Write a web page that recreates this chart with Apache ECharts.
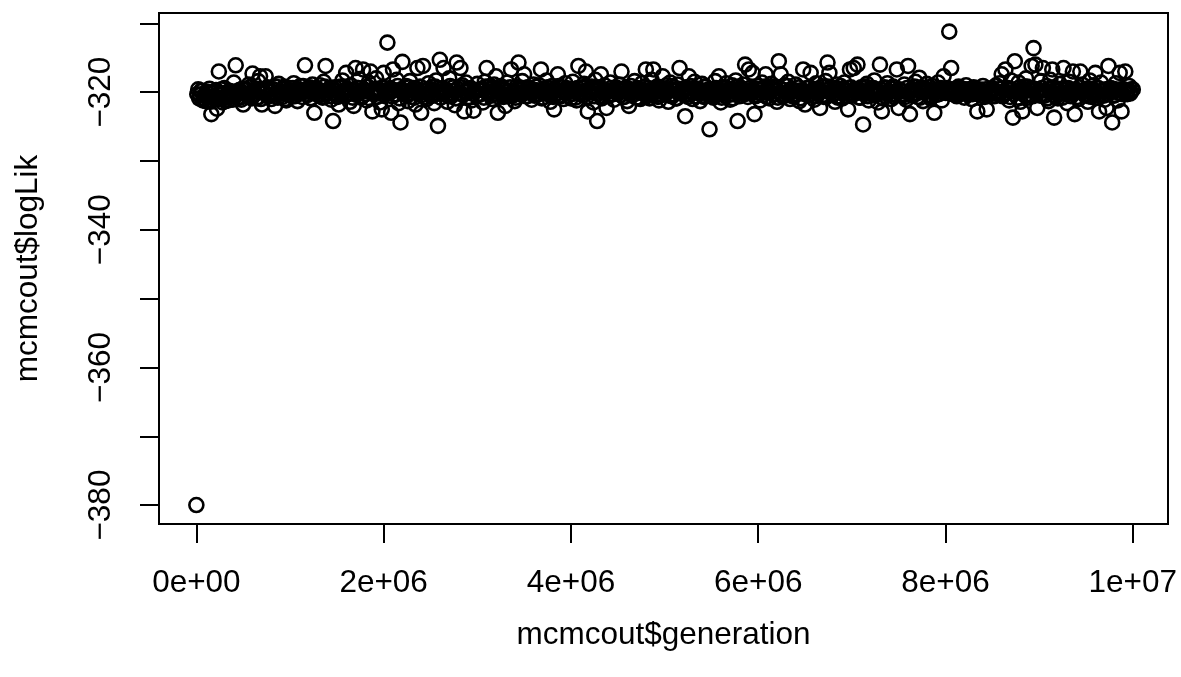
<!DOCTYPE html>
<html>
<head>
<meta charset="utf-8">
<script src="https://cdn.jsdelivr.net/npm/echarts@6/dist/echarts.min.js"></script>
<style>
html,body{margin:0;padding:0;background:#fff;}
#chart{width:1181px;height:677px;}
</style>
</head>
<body>
<div id="chart"></div>
<script>
// MCMC sample recorded every 10000 generations
const sampleEvery = 10000;
const xTickValues = [0, 2000000, 4000000, 6000000, 8000000, 10000000];
const xTickLabels = ['0e+00', '2e+06', '4e+06', '6e+06', '8e+06', '1e+07'];
const yTickValues = [-380, -370, -360, -350, -340, -330, -320, -310];
const yLabelValues = [-380, -360, -340, -320];
const xName = 'mcmcout$generation';
const yName = 'mcmcout$logLik';
// samples at generations 0, 20000, 40000, ... (even samples)
const logLikEven = [
-380,-319.6,-320.4,-319.8,-320.9,-321.3,-320.2,-319.5,-323.2,-320.7,-321.0,-322.4,-317.0,-320.1,-321.5,-319.4,-320.6,-321.2,-319.9,-320.3,-318.6,-316.1,-320.8,-319.7,-321.1,
-321.8,-319.5,-320.2,-318.9,-320.6,-317.3,-319.8,-320.9,-318.4,-317.7,-321.8,-320.1,-317.7,-319.3,-320.5,-321.0,-319.6,-322.0,-320.3,-318.8,-319.9,-320.7,-319.2,-321.2,-320.0,
-319.4,-320.6,-318.7,-320.2,-321.3,-319.7,-320.0,-319.1,-316.1,-320.4,-319.5,-320.9,-318.9,-323.0,-319.8,-320.3,-319.0,-320.7,-318.5,-316.2,-320.1,-319.6,-321.1,-324.2,-319.3,
-320.5,-321.8,-319.2,-318.3,-320.0,-317.2,-319.7,-321.4,-320.2,-322.0,-316.5,-319.4,-318.1,-320.8,-316.7,-319.9,-321.2,-318.6,-317.0,-322.8,-320.3,-318.0,-319.5,-321.5,-322.5,
-317.2,-320.1,-312.8,-319.6,-323.0,-316.7,-320.4,-318.2,-321.6,-324.4,-315.6,-320.0,-319.1,-321.3,-318.4,-320.7,-319.4,-321.8,-316.5,-320.2,-323.0,-316.2,-319.8,-321.0,-318.7,
-320.5,-319.2,-321.6,-318.3,-324.9,-315.3,-320.1,-316.5,-319.7,-321.4,-318.0,-320.6,-319.3,-321.9,-315.7,-320.2,-316.5,-319.0,-322.8,-318.6,-320.8,-319.5,-321.2,-322.7,-319.9,
-318.8,-320.4,-319.6,-321.5,-318.5,-316.5,-320.3,-319.1,-321.0,-318.9,-317.7,-323.0,-320.0,-319.4,-320.7,-322.0,-318.6,-319.8,-316.7,-320.5,-321.3,-319.2,-315.7,-320.1,-318.4,
-317.4,-320.6,-319.3,-320.0,-321.1,-318.9,-319.7,-320.4,-319.0,-316.7,-320.8,-319.5,-318.3,-320.2,-321.4,-319.1,-322.5,-319.8,-317.4,-320.5,-319.3,-321.0,-318.7,-320.1,-319.6,
-320.9,-318.5,-319.9,-321.2,-316.2,-320.3,-319.4,-318.8,-317.0,-322.8,-320.0,-319.2,-321.5,-318.2,-324.2,-319.7,-317.4,-320.6,-319.0,-322.3,-320.4,-318.6,-319.8,-321.1,-319.3,
-320.2,-318.9,-317.0,-320.7,-319.5,-321.3,-322.0,-319.1,-320.0,-318.4,-320.8,-319.6,-321.0,-318.7,-320.3,-316.7,-319.4,-320.9,-318.2,-316.7,-320.5,-319.2,-321.2,-319.8,-317.7,
-320.1,-319.0,-321.4,-318.6,-320.6,-319.3,-320.9,-318.9,-316.5,-320.2,-319.7,-323.5,-320.4,-317.7,-319.1,-321.0,-318.5,-320.0,-319.5,-321.3,-318.8,-320.7,-319.2,-320.3,-325.4,
-319.6,-320.8,-318.4,-320.1,-317.7,-321.5,-319.3,-320.5,-318.7,-319.9,-321.1,-319.0,-320.3,-318.3,-324.2,-320.6,-319.4,-318.9,-316.0,-320.2,-316.7,-319.7,-317.2,-323.2,-320.4,
-319.1,-321.2,-318.6,-320.0,-317.4,-319.5,-320.9,-318.8,-320.3,-319.2,-321.4,-315.5,-317.4,-320.6,-319.0,-320.1,-318.5,-321.0,-319.6,-320.4,-318.9,-319.8,-321.3,-320.2,-316.7,
-321.8,-319.4,-320.5,-317.2,-319.9,-321.1,-318.7,-320.3,-322.3,-319.2,-320.7,-318.4,-315.7,-317.2,-320.0,-319.5,-321.4,-318.9,-320.6,-319.1,-320.9,-318.6,-319.7,-322.5,-316.7,
-320.2,-316.5,-319.6,-316.0,-320.8,-319.3,-324.7,-320.1,-318.8,-321.2,-319.5,-320.4,-318.3,-320.0,-321.5,-316.0,-322.8,-319.4,-320.6,-318.7,-319.9,-321.0,-319.2,-320.3,-316.7,
-322.3,-319.8,-320.5,-318.9,-321.1,-316.2,-323.2,-319.6,-320.2,-318.5,-320.7,-317.9,-319.3,-321.3,-320.0,-318.8,-319.7,-320.9,-319.1,-323.0,-320.4,-318.6,-319.5,-321.2,-317.7,
-320.1,-319.4,-311.2,-316.5,-320.3,-319.7,-320.6,-319.2,-320.0,-319.5,-320.8,-319.0,-320.4,-319.8,-321.0,-319.3,-320.2,-322.8,-319.6,-320.5,-319.1,-320.7,-322.5,-319.9,-320.3,
-319.4,-320.6,-319.0,-320.1,-318.7,-317.4,-320.4,-316.7,-319.6,-321.2,-318.3,-323.7,-315.5,-320.0,-318.6,-321.4,-322.8,-319.2,-318.0,-320.8,-319.5,-316.2,-313.6,-316.0,-322.3,
-319.8,-318.4,-316.5,-320.5,-319.1,-321.3,-318.2,-316.7,-323.7,-319.7,-320.9,-318.8,-320.2,-316.5,-319.4,-321.6,-318.5,-320.6,-317.0,-323.2,-319.9,-321.0,-317.0,-318.9,-320.3,
-319.5,-321.4,-318.3,-320.7,-319.0,-317.2,-320.1,-322.8,-318.6,-319.8,-321.1,-322.3,-316.2,-319.4,-324.4,-320.5,-318.7,-321.2,-317.2,-322.8,-319.6,-317.0,-320.3,-319.1,-320.0,
-319.6
];
// samples at generations 10000, 30000, 50000, ... (odd samples, inside the dense band)
const logLikOdd = [
-320.3,-320.9,-319.8,-321.2,-320.5,-319.9,-320.7,-321.4,-320.1,-320.8,-319.7,-321.0,-320.4,-319.6,-320.9,-321.3,-320.2,-319.8,-320.6,-321.1,-319.9,-320.4,-320.0,-320.8,-319.5,
-320.2,-319.7,-320.5,-319.3,-320.9,-319.9,-320.3,-319.5,-320.7,-321.0,-319.8,-320.1,-319.4,-320.6,-320.0,-319.6,-320.4,-319.2,-320.8,-319.9,-320.2,-319.5,-321.0,-320.3,-319.7,
-320.0,-319.4,-320.6,-319.8,-320.3,-319.1,-320.7,-320.0,-319.6,-320.4,-319.3,-320.9,-319.7,-320.2,-319.5,-320.5,-319.9,-320.8,-319.2,-320.1,-319.6,-320.6,-319.4,-320.3,-319.8,
-320.7,-319.3,-320.1,-319.9,-320.5,-319.5,-320.2,-319.0,-320.8,-319.7,-320.4,-319.4,-320.0,-320.6,-319.6,-320.3,-319.2,-320.9,-319.8,-320.1,-319.5,-320.7,-319.9,-320.2,-319.3,
-320.4,-319.8,-320.0,-319.4,-320.6,-319.7,-320.3,-319.1,-320.9,-319.6,-320.2,-319.9,-320.5,-319.3,-320.1,-319.7,-320.8,-319.5,-320.0,-319.2,-320.4,-319.8,-320.7,-319.6,-320.1,
-319.6,-320.5,-319.2,-320.2,-319.9,-320.8,-319.4,-320.0,-319.7,-320.6,-319.1,-320.3,-319.8,-320.9,-319.5,-320.1,-319.3,-320.4,-320.0,-319.6,-320.7,-319.4,-320.2,-319.9,-320.5,
-319.7,-320.3,-319.5,-320.8,-319.2,-320.0,-319.9,-320.5,-319.4,-320.2,-319.8,-320.7,-319.1,-320.4,-319.6,-320.0,-320.6,-319.3,-320.1,-319.9,-320.8,-319.5,-320.3,-319.7,-320.2,
-319.9,-320.6,-319.4,-320.1,-319.7,-320.5,-319.2,-320.3,-319.8,-320.9,-319.6,-320.0,-319.3,-320.4,-319.9,-320.7,-319.5,-320.2,-319.1,-320.6,-319.8,-320.0,-319.4,-320.5,-319.7,
-320.3,-319.6,-320.8,-319.4,-320.1,-319.9,-320.4,-319.2,-320.7,-319.7,-320.0,-319.5,-320.6,-319.8,-320.2,-319.3,-320.9,-319.6,-320.1,-319.9,-320.5,-319.4,-320.3,-319.7,-320.0,
-319.5,-320.4,-319.8,-320.7,-319.3,-320.1,-319.6,-320.5,-319.9,-320.2,-319.4,-320.8,-319.7,-320.0,-319.2,-320.6,-319.8,-320.3,-319.5,-320.1,-319.9,-320.7,-319.3,-320.4,-319.6,
-320.2,-319.7,-320.5,-319.1,-320.3,-319.8,-320.9,-319.5,-320.0,-319.6,-320.4,-319.3,-320.7,-319.9,-320.1,-319.4,-320.6,-319.7,-320.2,-319.8,-320.5,-319.2,-320.0,-319.6,-320.3,
-319.8,-320.6,-319.4,-320.2,-319.9,-320.8,-319.3,-320.1,-319.7,-320.4,-319.5,-320.9,-319.8,-320.0,-319.2,-320.5,-319.6,-320.3,-319.9,-320.7,-319.4,-320.1,-319.7,-320.6,-319.5,
-320.1,-319.6,-320.4,-319.2,-320.7,-319.8,-320.0,-319.5,-320.3,-319.9,-320.8,-319.4,-320.2,-319.7,-320.5,-319.1,-320.0,-319.6,-320.6,-319.8,-320.3,-319.3,-320.9,-319.7,-320.1,
-319.9,-320.5,-319.3,-320.2,-319.7,-320.6,-319.5,-320.0,-319.8,-320.4,-319.2,-320.7,-319.6,-320.1,-319.9,-320.3,-319.4,-320.8,-319.7,-320.0,-319.5,-320.5,-319.8,-320.2,-319.3,
-320.4,-319.7,-320.1,-319.5,-320.8,-319.9,-320.3,-319.2,-320.6,-319.8,-320.0,-319.4,-320.5,-319.7,-320.2,-319.6,-320.9,-319.3,-320.1,-319.8,-320.4,-319.5,-320.7,-319.9,-320.0,
-319.6,-320.3,-319.9,-320.7,-319.4,-320.1,-319.8,-320.5,-319.2,-320.2,-319.7,-320.8,-319.5,-320.0,-319.9,-320.4,-319.3,-320.6,-319.8,-320.1,-319.6,-320.3,-319.4,-320.0,-319.7,
-320.0,-319.6,-320.2,-319.8,-320.1,-319.5,-320.3,-319.7,-320.0,-319.9,-320.2,-319.6,-320.1,-319.8,-320.3,-319.5,-320.0,-319.7,-320.2,-319.9,-320.1,-319.6,-320.3,-319.8,-320.0,
-319.7,-320.2,-319.9,-320.4,-319.5,-320.6,-319.8,-320.1,-319.4,-320.7,-319.6,-320.3,-319.9,-320.8,-319.3,-320.0,-319.7,-320.5,-319.2,-320.4,-319.8,-320.6,-319.5,-320.1,-319.9,
-320.5,-319.4,-320.2,-319.8,-320.9,-319.6,-320.0,-319.3,-320.6,-319.9,-320.3,-319.5,-320.8,-319.7,-320.1,-319.4,-320.5,-319.8,-320.2,-319.6,-320.7,-319.3,-320.0,-319.9,-320.4,
-319.8,-320.6,-319.5,-320.1,-319.7,-320.8,-319.4,-320.3,-319.9,-320.5,-319.6,-320.2,-319.8,-320.0,-319.5,-320.4,-319.7,-320.1,-319.6,-320.3,-319.8,-320.0,-319.7,-320.2,-319.6
];

const points = [];
logLikEven.forEach((v, k) => {
  points.push([2 * k * sampleEvery, v]);
  if (k < logLikOdd.length) points.push([(2 * k + 1) * sampleEvery, logLikOdd[k]]);
});
const fmtMinus = s => String(s).replace('-', '\u2212');
const FONT = '"Liberation Sans", Arial, Helvetica, sans-serif';
const FS = 31.5;

const chart = echarts.init(document.getElementById('chart'), null, {renderer: 'canvas'});
chart.setOption({
  animation: false,
  backgroundColor: '#ffffff',
  grid: {
    left: 159, right: 13, top: 13, bottom: 153,
    show: true, borderColor: '#000', borderWidth: 2, backgroundColor: 'transparent'
  },
  xAxis: {
    type: 'value',
    min: -399000, max: 10376000,
    name: xName, nameLocation: 'middle', nameGap: 95, nameMoveOverlap: false,
    nameTextStyle: {color: '#000', fontSize: FS, fontFamily: FONT},
    axisLine: {show: false, onZero: false},
    splitLine: {show: false},
    axisTick: {show: true, length: 19, lineStyle: {color: '#000', width: 2}, customValues: xTickValues},
    axisLabel: {
      show: true, margin: 43, color: '#000', fontSize: FS, fontFamily: FONT,
      customValues: xTickValues,
      formatter: v => { const k = xTickValues.indexOf(v); return k >= 0 ? xTickLabels[k] : ''; }
    }
  },
  yAxis: {
    type: 'value',
    min: -382.75, max: -308.5,
    name: yName, nameLocation: 'middle', nameGap: 115, nameRotate: 90, nameMoveOverlap: false,
    nameTextStyle: {color: '#000', fontSize: FS, fontFamily: FONT},
    axisLine: {show: false, onZero: false},
    splitLine: {show: false},
    axisTick: {show: true, length: 19, lineStyle: {color: '#000', width: 2}, customValues: yTickValues},
    axisLabel: {
      show: true, margin: 42, rotate: 90, color: '#000', fontSize: FS, fontFamily: FONT,
      customValues: yLabelValues,
      formatter: v => fmtMinus(v)
    }
  },
  series: [{
    type: 'scatter',
    data: points,
    symbol: 'circle',
    symbolSize: 14,
    large: false,
    itemStyle: {color: 'rgba(0,0,0,0)', borderColor: '#000', borderWidth: 2.6, opacity: 1},
    emphasis: {disabled: true},
    silent: true
  }]
});
</script>
</body>
</html>
